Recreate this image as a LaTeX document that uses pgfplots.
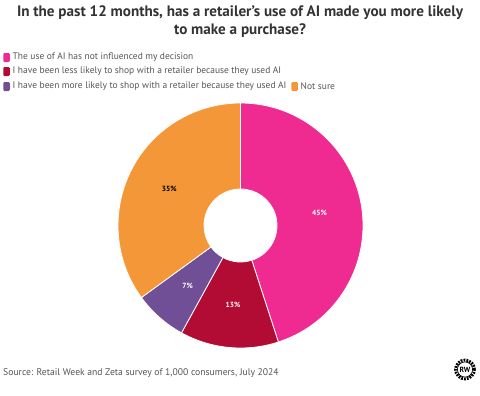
\documentclass[border=0pt]{standalone}
\usepackage{pgfplots}
\usepackage{pgfplotstable}
\pgfplotsset{compat=1.18}
\usepackage{fontspec}
\setmainfont{PT Sans}
\definecolor{cPink}{HTML}{EF2A91}
\definecolor{cCrim}{HTML}{B20C34}
\definecolor{cPurp}{HTML}{704F96}
\definecolor{cOrng}{HTML}{F39738}
\definecolor{cTxt}{HTML}{555555}
\definecolor{cTitle}{HTML}{333333}
\pgfplotstableread{
value color txt
45 cPink white
13 cCrim white
7 cPurp white
35 cOrng black
}\datatable
\newcommand\labelfont{\fontsize{7.5}{8}\selectfont\bfseries}
\begin{document}
\begin{tikzpicture}[x=1bp,y=1bp]
\path[use as bounding box] (0,0) rectangle (480,395);
\begin{axis}[hide axis, x=1bp, y=1bp, xmin=0, xmax=480, ymin=0, ymax=395,
  disabledatascaling, anchor=origin, at={(0,0)}, clip=false]
\def\cx{240.5}\def\cy{169.5}
\def\ro{122.5}\def\ri{36.5}
\gdef\curang{90}
\pgfplotsforeachungrouped \i in {0,...,3}{%
  \pgfplotstablegetelem{\i}{value}\of\datatable \let\val\pgfplotsretval
  \pgfplotstablegetelem{\i}{color}\of\datatable \let\col\pgfplotsretval
  \pgfplotstablegetelem{\i}{txt}\of\datatable \let\tcol\pgfplotsretval
  \pgfmathsetmacro\endang{\curang-3.6*\val}
  \pgfmathsetmacro\midang{(\curang+\endang)/2}
  \pgfmathsetmacro\xa{\cx+\ro*cos(\curang)}
  \pgfmathsetmacro\ya{\cy+\ro*sin(\curang)}
  \pgfmathsetmacro\xb{\cx+\ri*cos(\endang)}
  \pgfmathsetmacro\yb{\cy+\ri*sin(\endang)}
  \pgfmathsetmacro\xl{\cx+80*cos(\midang)}
  \pgfmathsetmacro\yl{\cy+80*sin(\midang)}
  \pgfmathtruncatemacro\vi{\val}
  \edef\temp{\noexpand\fill[\col, draw=white, line width=0.8bp] (axis cs:\xa,\ya) arc[start angle=\curang, end angle=\endang, radius=\ro bp] -- (axis cs:\xb,\yb) arc[start angle=\endang, end angle=\curang, radius=\ri bp] -- cycle;
  \noexpand\node[text=\tcol, font=\noexpand\labelfont] at (axis cs:\xl,\yl) {\vi\noexpand\%};}%
  \temp
  \global\let\curang\endang
}
\end{axis}
% title
\node[font=\fontsize{15.2}{18}\selectfont\bfseries, text=cTitle, align=center] at (240,373) {In the past 12 months, has a retailer’s use of AI made you more likely\\to make a purchase?};
% legend
\tikzset{lsq/.style={rounded corners=1.2bp, minimum width=6.5bp, minimum height=9bp, inner sep=0pt}, ltx/.style={anchor=west, font=\fontsize{9.5}{10}\selectfont, text=cTxt, inner sep=0pt}}
\node[lsq, fill=cPink] at (6.5,337.5) {};
\node[ltx] at (12.5,337.5) {The use of AI has not influenced my decision};
\node[lsq, fill=cCrim] at (6.5,323.5) {};
\node[ltx] at (12.5,323.5) {I have been less likely to shop with a retailer because they used AI};
\node[lsq, fill=cPurp] at (6.5,308.5) {};
\node[ltx] (l3) at (12.5,308.5) {I have been more likely to shop with a retailer because they used AI};
\node[lsq, fill=cOrng, anchor=west] (sq4) at ([xshift=4.5bp]l3.east) {};
\node[ltx] at ([xshift=2.5bp]sq4.east) {Not sure};
% source
\node[anchor=west, font=\fontsize{9.7}{10}\selectfont, text=cTxt, inner sep=0pt] at (3,22) {Source: Retail Week and Zeta survey of 1,000 consumers, July 2024};
% logo
\draw[line width=2.8bp, dash pattern=on 1.8bp off 1.1bp, fill=white] (465,25.5) circle[radius=9.5bp];
\draw[line width=0.7bp] (465,25.5) circle[radius=7.6bp];
\node[font=\fontsize{7.5}{8}\selectfont\bfseries, inner sep=0pt] at (465,25.5) {RW};
\end{tikzpicture}
\end{document}
